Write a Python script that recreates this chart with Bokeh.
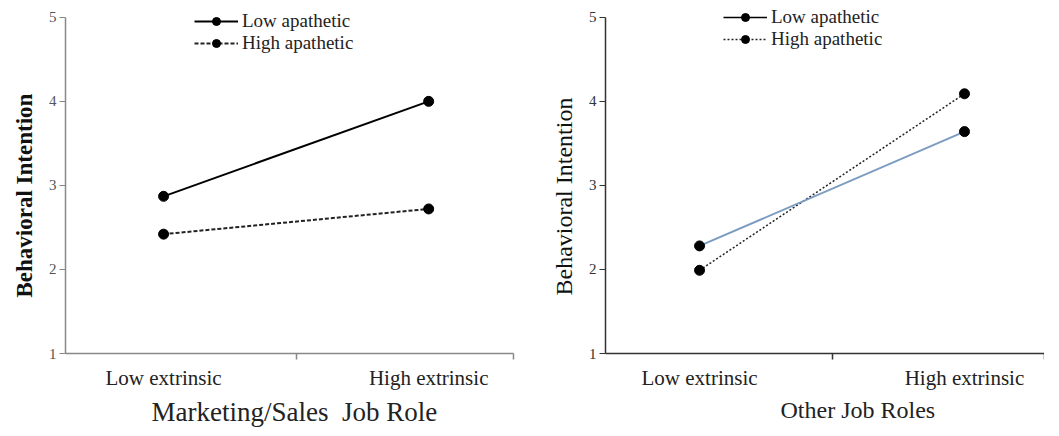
from bokeh.plotting import figure
from bokeh.layouts import row
from bokeh.models import Range1d, FixedTicker, Legend, LegendItem, ColumnDataSource, Title
from bokeh.embed import file_html
from bokeh.resources import INLINE

# ---- data ----
categories = ["Low extrinsic", "High extrinsic"]
cat_pos = [0, 1]
y_ticks = [1, 2, 3, 4, 5]
series_labels = ["Low apathetic", "High apathetic"]
panel_titles = ["Marketing/Sales\u00a0 Job Role", "Other Job Roles"]
y_label = "Behavioral Intention"

mkt_low_apathetic = [2.87, 4.00]
mkt_high_apathetic = [2.42, 2.72]
oth_low_apathetic = [2.28, 3.64]
oth_high_apathetic = [1.99, 4.09]

FONT = "Liberation Serif"


def make_panel(low, high, title, x_start, x_end, frame_w, border_l, border_r,
               axis_color, tick_color, label_bold, label_size, label_offset,
               title_size, title_offset, low_color,
               high_dash, high_width, legend_x, legend_y):
    p = figure(frame_width=frame_w, frame_height=353,
               x_range=Range1d(x_start, x_end), y_range=Range1d(1, 5.2),
               output_backend="svg", toolbar_location=None,
               min_border_left=border_l, min_border_right=border_r,
               min_border_top=0, min_border_bottom=0)
    p.outline_line_color = None
    p.grid.visible = False

    # y axis
    ya = p.yaxis[0]
    ya.bounds = (y_ticks[0], y_ticks[-1])
    ya.ticker = FixedTicker(ticks=y_ticks, minor_ticks=[])
    ya.axis_line_color = axis_color
    ya.axis_line_width = 1.5
    ya.major_tick_line_color = axis_color
    ya.major_tick_out = 6
    ya.major_tick_in = 0
    ya.minor_tick_line_color = None
    ya.major_label_text_font = FONT
    ya.major_label_text_font_size = "15px"
    ya.major_label_text_color = tick_color
    ya.major_label_standoff = 3

    ytitle = Title(text=y_label, align="left", offset=label_offset,
                   text_font=FONT, text_font_size=label_size,
                   text_font_style="bold" if label_bold else "normal",
                   text_color="#111111", standoff=18)
    p.add_layout(ytitle, "left")

    # x axis
    xa = p.xaxis[0]
    xa.ticker = FixedTicker(ticks=cat_pos, minor_ticks=[0.5, x_end])
    xa.major_label_overrides = {cat_pos[i]: categories[i] for i in range(2)}
    xa.axis_line_color = axis_color
    xa.axis_line_width = 1.5
    xa.major_tick_line_color = None
    xa.major_tick_out = 6
    xa.major_tick_in = 0
    xa.minor_tick_line_color = axis_color
    xa.minor_tick_line_width = 1.5
    xa.minor_tick_out = 6
    xa.minor_tick_in = 0
    xa.major_label_text_font = FONT
    xa.major_label_text_font_size = "21px"
    xa.major_label_text_color = "#222222"
    xa.major_label_standoff = 6

    xtitle = Title(text=title, align="left", offset=title_offset,
                   text_font=FONT, text_font_size=title_size,
                   text_font_style="normal", text_color="#222222", standoff=4)
    p.add_layout(xtitle, "below")

    src_low = ColumnDataSource(dict(x=cat_pos, y=low))
    src_high = ColumnDataSource(dict(x=cat_pos, y=high))

    hl = p.line("x", "y", source=src_high, line_color="#222222",
                line_width=high_width, line_dash=high_dash)
    hs = p.scatter("x", "y", source=src_high, size=10, color="black")
    ll = p.line("x", "y", source=src_low, line_color=low_color, line_width=2)
    ls = p.scatter("x", "y", source=src_low, size=10, color="black")

    if low_color != "black":
        proxy = p.line("x", "y", source=src_low, line_color="black", line_width=1.5)
        proxy.visible = False
        low_items = [proxy, ls]
    else:
        low_items = [ll, ls]

    legend = Legend(items=[LegendItem(label=series_labels[0], renderers=low_items),
                           LegendItem(label=series_labels[1], renderers=[hl, hs])],
                    location=(legend_x, legend_y), orientation="vertical")
    legend.glyph_width = 44
    legend.glyph_height = 20
    legend.label_height = 20
    legend.label_standoff = 4
    legend.spacing = 0
    legend.padding = 0
    legend.margin = 0
    legend.border_line_color = None
    legend.background_fill_alpha = 0
    legend.label_text_font = FONT
    legend.label_text_font_size = "19px"
    legend.label_text_color = "#222222"
    legend.inactive_fill_alpha = 0
    p.add_layout(legend, "center")
    return p


p1 = make_panel(mkt_low_apathetic, mkt_high_apathetic, panel_titles[0],
                -0.37, 1.32, 448, 64, 18, "#888888", "#555555", True, "23px", 56,
                "27px", 86, "black", "4 2", 2, 129, 299)
p2 = make_panel(oth_low_apathetic, oth_high_apathetic, panel_titles[1],
                -0.355, 1.302, 439, 74, 0, "#333333", "#333333", False, "24px", 58,
                "24px", 175, "#7b9cc0", "2 2", 1.5, 118, 303)

layout = row(p1, p2, spacing=0)
open("out.html", "w").write(file_html(layout, INLINE))
